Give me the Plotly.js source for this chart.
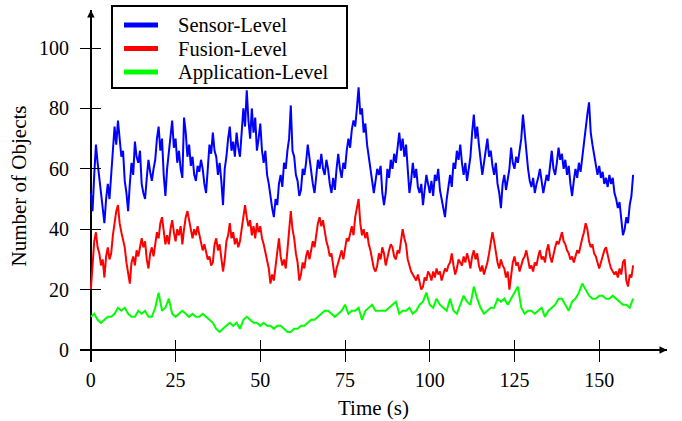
<!DOCTYPE html>
<html><head><meta charset="utf-8">
<script src="https://cdn.plot.ly/plotly-3.0.1.min.js"></script>
<style>html,body{margin:0;padding:0;background:#fff}#chart{width:682px;height:421px}</style>
</head><body><div id="chart"></div>
<script>
// time in seconds, half-second samples (Sensor / Fusion)
const timeHalf = [
0,0.5,1,1.5,2,2.5,3,3.5,4,4.5,5,5.5,6,6.5,7,7.5,8,8.5,9,9.5,
10,10.5,11,11.5,12,12.5,13,13.5,14,14.5,15,15.5,16,16.5,17,17.5,18,18.5,19,19.5,
20,20.5,21,21.5,22,22.5,23,23.5,24,24.5,25,25.5,26,26.5,27,27.5,28,28.5,29,29.5,
30,30.5,31,31.5,32,32.5,33,33.5,34,34.5,35,35.5,36,36.5,37,37.5,38,38.5,39,39.5,
40,40.5,41,41.5,42,42.5,43,43.5,44,44.5,45,45.5,46,46.5,47,47.5,48,48.5,49,49.5,
50,50.5,51,51.5,52,52.5,53,53.5,54,54.5,55,55.5,56,56.5,57,57.5,58,58.5,59,59.5,
60,60.5,61,61.5,62,62.5,63,63.5,64,64.5,65,65.5,66,66.5,67,67.5,68,68.5,69,69.5,
70,70.5,71,71.5,72,72.5,73,73.5,74,74.5,75,75.5,76,76.5,77,77.5,78,78.5,79,79.5,
80,80.5,81,81.5,82,82.5,83,83.5,84,84.5,85,85.5,86,86.5,87,87.5,88,88.5,89,89.5,
90,90.5,91,91.5,92,92.5,93,93.5,94,94.5,95,95.5,96,96.5,97,97.5,98,98.5,99,99.5,
100,100.5,101,101.5,102,102.5,103,103.5,104,104.5,105,105.5,106,106.5,107,107.5,108,108.5,109,109.5,
110,110.5,111,111.5,112,112.5,113,113.5,114,114.5,115,115.5,116,116.5,117,117.5,118,118.5,119,119.5,
120,120.5,121,121.5,122,122.5,123,123.5,124,124.5,125,125.5,126,126.5,127,127.5,128,128.5,129,129.5,
130,130.5,131,131.5,132,132.5,133,133.5,134,134.5,135,135.5,136,136.5,137,137.5,138,138.5,139,139.5,
140,140.5,141,141.5,142,142.5,143,143.5,144,144.5,145,145.5,146,146.5,147,147.5,148,148.5,149,149.5,
150,150.5,151,151.5,152,152.5,153,153.5,154,154.5,155,155.5,156,156.5,157,157.5,158,158.5,159,159.5,
160];

// time in seconds, one-second samples (Application)
const timeSec = [0,1,2,3,4,5,6,7,8,9,10,11,12,13,14,15,16,17,18,19,20,21,22,23,24,25,26,27,28,29,30,31,32,33,34,35,36,37,38,39,40,41,42,43,44,45,46,47,48,49,50,51,52,53,54,55,56,57,58,59,60,61,62,63,64,65,66,67,68,69,70,71,72,73,74,75,76,77,78,79,80,81,82,83,84,85,86,87,88,89,90,91,92,93,94,95,96,97,98,99,100,101,102,103,104,105,106,107,108,109,110,111,112,113,114,115,116,117,118,119,120,121,122,123,124,125,126,127,128,129,130,131,132,133,134,135,136,137,138,139,140,141,142,143,144,145,146,147,148,149,150,151,152,153,154,155,156,157,158,159,160];

const sensorLevel = [
52,46,58,68,62,57,52,45,42,50,55,50,60,66,74,68,76,70,64,66,
56,52,46,55,62,58,69,64,62,66,55,52,50,57,63,59,56,60,63,70,
74,66,70,58,51,60,66,72,76,67,70,62,66,60,57,77,72,64,68,61,
64,58,56,61,59,63,60,55,52,60,68,65,72,66,64,58,62,56,48,60,
64,70,74,66,69,64,72,67,64,72,80,74,86,76,70,80,72,77,66,70,
75,66,62,66,58,55,50,47,44,50,48,55,58,54,62,60,66,70,81,66,
64,58,56,51,53,60,58,62,68,63,60,55,52,58,63,60,65,60,58,63,
60,55,52,57,53,60,65,60,57,62,60,66,70,67,73,76,74,80,87,78,
80,72,75,68,64,60,55,52,56,60,58,61,52,48,52,60,57,63,60,65,
62,68,72,66,70,64,68,60,52,56,62,57,60,54,52,55,48,53,58,55,
52,56,51,58,56,60,53,50,47,44,50,55,58,54,62,60,66,63,68,62,
58,62,56,60,64,72,78,70,74,68,62,58,62,66,70,64,66,61,58,62,
55,52,47,55,58,53,56,60,67,62,60,64,62,66,70,78,72,64,60,56,
54,57,52,55,57,60,56,52,55,58,56,62,66,60,58,62,67,63,65,60,
63,58,61,55,51,56,60,57,62,59,64,70,74,78,82,72,68,65,62,58,
61,57,59,55,57,54,58,55,57,52,50,47,49,44,38,40,44,42,48,51,
58];

const fusionLevel = [
20,30,36,39,34,32,28,30,24,31,34,30,32,38,43,46,48,42,39,36,
34,29,26,22,29,31,28,33,31,34,37,34,36,30,27,32,34,31,35,39,
37,42,44,39,35,38,35,40,43,39,36,40,38,41,35,40,44,46,43,39,
37,40,38,41,38,35,33,35,32,30,31,28,29,35,37,33,35,31,26,30,
36,38,42,37,39,35,37,34,36,40,45,48,44,41,43,38,41,37,42,39,
41,37,35,32,30,27,22,25,23,28,34,37,31,28,30,27,33,41,46,40,
37,32,29,23,25,29,27,31,33,30,33,36,34,38,42,44,41,43,39,36,
34,31,32,28,24,27,29,31,33,30,34,37,36,39,41,38,44,47,50,42,
38,40,37,39,35,33,30,27,26,28,32,30,34,32,28,31,33,35,34,31,
30,33,32,36,40,37,35,30,28,26,25,24,23,25,22,20,21,24,23,26,
25,23,26,24,27,25,26,23,25,27,26,28,29,32,28,25,27,30,29,28,
31,29,32,30,27,31,33,30,32,28,26,28,25,27,29,32,35,39,36,32,
29,27,30,28,27,24,26,20,24,29,31,28,29,26,28,30,31,33,30,27,
28,26,29,28,31,33,30,31,29,33,35,31,29,32,34,36,35,37,39,36,
35,33,32,30,31,29,31,33,32,35,37,39,42,40,36,34,35,32,31,29,
27,29,31,33,34,31,29,27,26,25,26,24,27,25,29,30,23,21,25,24,
28];

const applicationLevel = [11,12,10,9,10,11,11,12,14,13, 14,12,11,11,13,12,13,11,11,14, 19,13,14,17,12,11,12,13,12,11, 12,11,11,12,11,10,9,7,6,7, 8,9,8,9,7,10,11,10,9,9, 8,9,8,8,7,8,8,7,6,6, 7,7,8,8,9,10,10,11,12,13, 13,12,11,12,13,15,12,13,13,14, 10,13,14,15,13,13,13,13,14,15, 16,12,13,13,14,12,13,15,16,19, 15,14,17,15,14,13,17,13,12,15, 18,16,15,21,17,14,12,13,14,14, 17,16,17,15,17,19,21,14,12,13, 13,12,13,14,11,13,14,15,17,17, 15,13,16,17,19,22,20,18,17,17, 18,18,17,17,18,17,16,15,15,14, 17];

const seriesNames = ['Sensor-Level','Fusion-Level','Application-Level'];
const seriesColors = ['#0000ff','#ff0000','#00ff00'];
const xTickVals = [0,25,50,75,100,125,150];
const yTickVals = [0,20,40,60,80,100];
const axisTitles = {x: 'Time (s)', y: 'Number of Objects'};

const seriesX = [timeHalf, timeHalf, timeSec];
const seriesY = [sensorLevel, fusionLevel, applicationLevel];
const traces = [2,1,0].map(i => ({
  x: seriesX[i], y: seriesY[i], type: 'scatter', mode: 'lines', name: seriesNames[i],
  line: {color: seriesColors[i], width: 2, shape: 'linear'},
  showlegend: false, hoverinfo: 'skip'
}));

// plot area in pixels: x 80..667, y 10..362
const W = 587, H = 352;
const px = v => (v - 80) / W;
const py = v => (362 - v) / H;
const fontFam = '"Liberation Serif", "Times New Roman", Times, serif';

const shapes = [{type: 'rect', xref: 'paper', yref: 'paper', x0: px(112), x1: px(347), y0: py(88), y1: py(6),
                 line: {color: '#000', width: 2}, fillcolor: '#ffffff', layer: 'above'}];
const annotations = [
  {x: 170, y: 0, ax: 160, ay: 0, xref: 'x', yref: 'y', axref: 'x', ayref: 'y', text: '',
   showarrow: true, arrowhead: 2, arrowsize: 1, arrowwidth: 1.5, arrowcolor: '#000'},
  {x: 0, y: 112.6, ax: 0, ay: 100, xref: 'x', yref: 'y', axref: 'x', ayref: 'y', text: '',
   showarrow: true, arrowhead: 2, arrowsize: 1, arrowwidth: 1.5, arrowcolor: '#000'}
];
const rowsY = [25, 48.5, 72];
seriesNames.forEach((name, i) => {
  shapes.push({type: 'line', xref: 'paper', yref: 'paper', x0: px(124), x1: px(158), y0: py(rowsY[i]), y1: py(rowsY[i]),
               line: {color: seriesColors[i], width: 5}, layer: 'above'});
  annotations.push({xref: 'paper', yref: 'paper', x: px(176), y: py(rowsY[i]), xanchor: 'left', yanchor: 'middle',
                    text: name, showarrow: false, font: {family: fontFam, size: 20.5, color: '#000'}});
});

const layout = {
  width: 682, height: 421,
  margin: {l: 80, r: 15, t: 10, b: 59, pad: 0},
  paper_bgcolor: '#ffffff', plot_bgcolor: '#ffffff',
  font: {family: fontFam, size: 20, color: '#000'},
  showlegend: false,
  xaxis: {range: [-3.2, 170], tickmode: 'array', tickvals: xTickVals,
          ticks: 'inside', ticklen: 22, tickwidth: 1, tickcolor: '#000', ticklabelstandoff: 4,
          showgrid: false, zeroline: true, zerolinecolor: '#000', zerolinewidth: 1.5,
          showline: false, tickfont: {family: fontFam, size: 20, color: '#000'},
          title: {text: axisTitles.x, font: {family: fontFam, size: 21, color: '#000'}, standoff: 10}},
  yaxis: {range: [-3.97, 112.6], tickmode: 'array', tickvals: yTickVals,
          ticks: 'inside', ticklen: 21, tickwidth: 1, tickcolor: '#000', ticklabelstandoff: 10,
          showgrid: false, zeroline: true, zerolinecolor: '#000', zerolinewidth: 1.5,
          showline: false, tickfont: {family: fontFam, size: 20, color: '#000'},
          title: {text: axisTitles.y, font: {family: fontFam, size: 21, color: '#000'}, standoff: 6}},
  shapes: shapes,
  annotations: annotations
};
Plotly.newPlot('chart', traces, layout, {displayModeBar: false, staticPlot: true});
</script></body></html>
